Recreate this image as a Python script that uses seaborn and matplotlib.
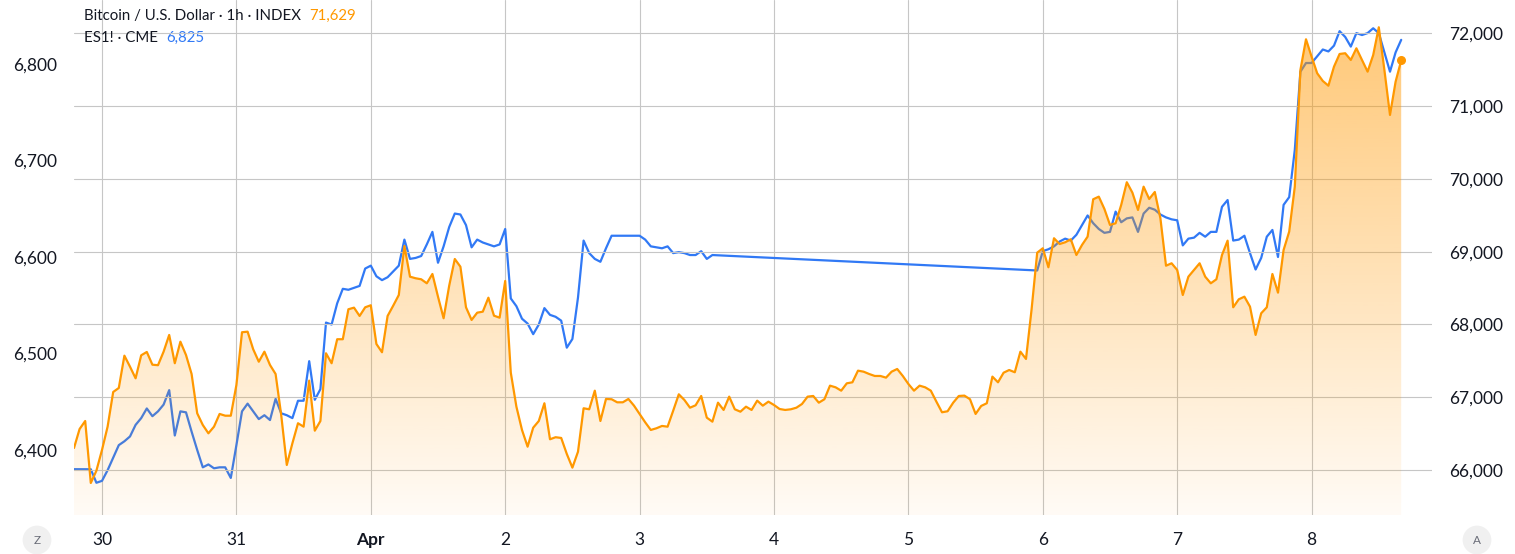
import numpy as np
import pandas as pd
import seaborn as sns
import matplotlib.pyplot as plt
import matplotlib.dates as mdates

# BTC/USD hourly closes, first bar 2026-03-29 19:00 UTC
btc_start = "2026-03-29 19:00"
btc = [
    66302, 66563, 66673, 65821, 65990, 66275, 66595, 67072, 67127, 67571,
    67420, 67260, 67576, 67622, 67447, 67440, 67626, 67856, 67467, 67763,
    67580, 67319, 66779, 66618, 66504, 66595, 66770, 66746, 66746, 67168,
    67893, 67901, 67659, 67488, 67626, 67443, 67319, 66756, 66069, 66367,
    66642, 66595, 67228, 66540, 66673, 67604, 67467, 67797, 67797, 68209,
    68231, 68117, 68236, 68264, 67732, 67618, 68117, 68258, 68405, 69079,
    68657, 68635, 68621, 68566, 68694, 68382, 68085, 68533, 68900, 68794,
    68236, 68062, 68162, 68176, 68368, 68121, 68093, 68598, 67337, 66870,
    66550, 66320, 66581, 66673, 66917, 66422, 66450, 66440, 66220, 66032,
    66251, 66848, 66834, 67090, 66673, 66976, 66972, 66930, 66930, 66976,
    66884, 66770, 66655, 66550, 66573, 66605, 66595, 66815, 67040, 66962,
    66856, 66889, 67017, 66719, 66664, 66925, 66825, 67008, 66834, 66801,
    66870, 66825, 66953, 66884, 66939, 66893, 66838, 66825, 66834, 66856,
    66907, 67008, 67017, 66925, 66972, 67159, 67136, 67090, 67191, 67205,
    67365, 67351, 67319, 67292, 67292, 67269, 67351, 67388, 67292, 67182,
    67090, 67159, 67136, 67090, 66939, 66793, 66807, 66925, 67017, 67022,
    66972, 66770, 66880, 66917, 67283, 67205, 67337, 67374, 67343, 67626,
    67526, 68209, 68987, 69047, 68786, 69185, 69106, 69130, 69171, 68955,
    69093, 69207, 69721, 69757, 69588, 69368, 69391, 69643, 69955, 69812,
    69574, 69894, 69725, 69821, 69460, 68808, 68841, 68749, 68405, 68657,
    68749, 68841, 68657, 68566, 68621, 68955, 69152, 68236, 68346, 68382,
    68245, 67856, 68154, 68236, 68694, 68437, 69024, 69276, 69894, 71498,
    71920, 71681, 71453, 71347, 71282, 71544, 71718, 71728, 71636, 71796,
    71636, 71475, 71704, 72085, 71498, 70880, 71337, 71629,
]

# ES1! hourly closes (CME), two sessions with the Easter weekend between
es_prev_close_time = "2026-03-27 21:00"
es_prev_close = 6381
es_start_1 = "2026-03-29 22:00"
es_week1 = [
    6380, 6366, 6368, 6379, 6392, 6405, 6409, 6414, 6426, 6433,
    6443, 6435, 6440, 6447, 6462, 6415, 6440, 6439, 6419, 6400,
    6382, 6385, 6381, 6382, 6382, 6371, 6405, 6440, 6448, 6440,
    6432, 6436, 6431, 6453, 6438, 6436, 6433, 6451, 6451, 6492,
    6452, 6463, 6532, 6530, 6552, 6567, 6566, 6568, 6570, 6588,
    6591, 6580, 6576, 6579, 6585, 6591, 6618, 6598, 6599, 6601,
    6613, 6626, 6594, 6611, 6631, 6645, 6644, 6633, 6610, 6618,
    6615, 6613, 6611, 6613, 6629, 6557, 6549, 6536, 6531, 6520,
    6530, 6547, 6540, 6538, 6534, 6506, 6515, 6558, 6617, 6604,
    6598, 6595, 6609, 6622, 6622, 6622, 6622, 6622, 6622, 6618,
    6611, 6610, 6609, 6611, 6604, 6605, 6604, 6602, 6602, 6606,
    6598, 6602,
]
es_start_2 = "2026-04-05 23:00"
es_week2 = [
    6586, 6606, 6608, 6611, 6616, 6619, 6617, 6623, 6633, 6643,
    6635, 6629, 6625, 6626, 6647, 6636, 6640, 6641, 6626, 6645,
    6651, 6649, 6644, 6641, 6639, 6638, 6612, 6619, 6620, 6625,
    6621, 6626, 6626, 6652, 6659, 6617, 6618, 6622, 6604, 6587,
    6599, 6621, 6628, 6600, 6654, 6662, 6711, 6792, 6801, 6801,
    6808, 6815, 6813, 6819, 6834, 6828, 6818, 6832, 6830, 6832,
    6837, 6832, 6812, 6792, 6812, 6825,
]

day_labels = ["30", "31", "Apr", "2", "3", "4", "5", "6", "7", "8"]
es_ticks = [6400, 6500, 6600, 6700, 6800]
btc_ticks = [66000, 67000, 68000, 69000, 70000, 71000, 72000]

ORANGE = "#FF9800"
BLUE = "#3179F5"
TEXT = "#131722"
GRID = "#c6c6c6"

sns.set_theme(style="white")
plt.rcParams["font.family"] = ["Lato", "DejaVu Sans"]

btc_df = pd.DataFrame({
    "time": pd.date_range(btc_start, periods=len(btc), freq="h"),
    "price": btc,
})
es_df = pd.concat([
    pd.DataFrame({"time": [pd.Timestamp(es_prev_close_time)], "price": [es_prev_close]}),
    pd.DataFrame({"time": pd.date_range(es_start_1, periods=len(es_week1), freq="h"), "price": es_week1}),
    pd.DataFrame({"time": pd.date_range(es_start_2, periods=len(es_week2), freq="h"), "price": es_week2}),
], ignore_index=True)

W, H = 1515, 554
fig = plt.figure(figsize=(W / 100, H / 100), dpi=100)
ax_es = fig.add_axes([74 / W, 1 - 515 / H, (1432 - 74) / W, 515 / H])
ax_btc = ax_es.twinx()

x0 = btc_df.time.iloc[0]
x1 = x0 + pd.Timedelta(hours=242.5)
btc_lo, btc_hi = 65381, 72460
es_lo, es_hi = 6332.6, 6866.3

# ES line on the lower axes so the orange area sits over it
sns.lineplot(data=es_df, x="time", y="price", ax=ax_es, color=BLUE,
             linewidth=1.6, estimator=None)

# gradient area under BTC
poly = ax_btc.fill_between(btc_df.time, btc_df.price, btc_lo, color="none")
grad = np.zeros((256, 1, 4))
grad[:, 0, :3] = np.array([255, 152, 0]) / 255
grad[:, 0, 3] = np.linspace(0.04, 0.56, 256)
im = ax_btc.imshow(grad, aspect="auto", origin="lower", zorder=1,
                   extent=[mdates.date2num(x0), mdates.date2num(x1), btc_lo, btc_hi])
im.set_clip_path(poly.get_paths()[0], transform=ax_btc.transData)

sns.lineplot(data=btc_df, x="time", y="price", ax=ax_btc, color=ORANGE,
             linewidth=1.6, estimator=None, zorder=3)
ax_btc.scatter(btc_df.time.iloc[-1], btc_df.price.iloc[-1], s=30, color=ORANGE, zorder=4)

ax_es.set_xlim(x0, x1)
ax_es.set_ylim(es_lo, es_hi)
ax_btc.set_ylim(btc_lo, btc_hi)

for ax in (ax_es, ax_btc):
    for s in ax.spines.values():
        s.set_visible(False)
    ax.set_xlabel("")
    ax.set_ylabel("")

ax_es.set_xticks(pd.date_range("2026-03-30", periods=len(day_labels), freq="D"))
ax_es.set_xticklabels(day_labels)
ax_es.xaxis.get_ticklabels()[2].set_fontweight("bold")
ax_es.set_yticks(es_ticks)
ax_es.set_yticklabels([f"{v:,}" for v in es_ticks])
ax_btc.set_yticks(btc_ticks)
ax_btc.set_yticklabels([f"{v:,}" for v in btc_ticks])

ax_es.tick_params(axis="x", length=0, pad=12, labelsize=12.5, labelcolor=TEXT)
ax_es.tick_params(axis="y", length=0, pad=12, labelsize=12.5, labelcolor=TEXT)
ax_btc.tick_params(axis="y", length=0, pad=12, labelsize=12.5, labelcolor=TEXT)

ax_es.grid(axis="x", color=GRID, linewidth=0.8)
ax_es.grid(axis="y", visible=False)
ax_btc.grid(axis="y", color=GRID, linewidth=0.8)
ax_btc.grid(axis="x", visible=False)
ax_es.set_axisbelow(True)

# legend lines at the top left
t1 = fig.text(84 / W, 1 - 16 / H, "Bitcoin / U.S. Dollar · 1h · INDEX",
              fontsize=10.8, color=TEXT, va="center")
t2 = fig.text(84 / W, 1 - 38 / H, "ES1! · CME", fontsize=10.8, color=TEXT, va="center")
ax_es.annotate("71,629", xy=(1, 0.5), xycoords=t1, xytext=(6, 0), textcoords="offset points",
               fontsize=10.8, color=ORANGE, va="center")
ax_es.annotate("6,825", xy=(1, 0.5), xycoords=t2, xytext=(6, 0), textcoords="offset points",
               fontsize=10.8, color=BLUE, va="center")

for px, letter in [(37, "Z"), (1477, "A")]:
    fig.text(px / W, 1 - 540 / H, letter, ha="center", va="center", fontsize=8.5,
             color="#6a6d78",
             bbox=dict(boxstyle="circle,pad=0.75", fc="#f0f0f0", ec="none"))

fig.savefig("out.png", dpi=100)
